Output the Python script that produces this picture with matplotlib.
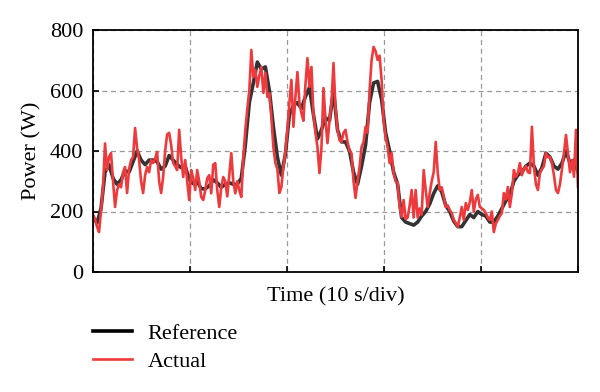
import numpy as np
from matplotlib import pyplot as plt

# power readings (W), sampled evenly over the 50 s window
actual_power = [
    190, 175, 150, 132, 200, 280, 425, 337, 380, 393, 300, 215, 270, 290, 280, 330,
    347, 261, 340, 370, 380, 476, 410, 370, 300, 261, 320, 347, 330, 370, 360, 375,
    397, 300, 261, 314, 400, 455, 460, 420, 360, 350, 337, 470, 380, 314, 370, 300,
    238, 337, 310, 271, 337, 300, 248, 238, 270, 310, 320, 260, 355, 360, 271, 215,
    280, 314, 300, 250, 320, 393, 300, 260, 300, 270, 248, 380, 470, 540, 600, 734,
    645, 668, 612, 650, 678, 592, 658, 579, 590, 512, 413, 360, 340, 261, 281, 347,
    400, 470, 560, 635, 480, 579, 661, 560, 525, 500, 620, 707, 612, 678, 520, 460,
    413, 327, 413, 608, 502, 426, 500, 560, 691, 545, 470, 436, 430, 460, 470, 430,
    400, 392, 300, 245, 300, 347, 413, 430, 480, 460, 600, 700, 744, 730, 701, 715,
    635, 500, 446, 413, 360, 393, 327, 300, 294, 215, 182, 238, 175, 180, 220, 271,
    180, 271, 180, 210, 190, 337, 271, 215, 260, 300, 330, 430, 330, 271, 280, 250,
    215, 220, 205, 195, 172, 162, 149, 180, 215, 172, 228, 205, 230, 271, 200, 240,
    255, 215, 210, 205, 195, 180, 172, 200, 132, 160, 172, 185, 195, 261, 240, 281,
    215, 260, 337, 315, 327, 360, 320, 340, 350, 330, 327, 480, 350, 290, 271, 327,
    340, 350, 393, 380, 380, 360, 320, 271, 261, 290, 340, 393, 453, 393, 330, 370,
    315, 470, 281,
]
reference_power = [
    180, 162, 210, 330, 355, 310, 290, 305, 335, 330, 365, 400, 370, 355, 370, 370,
    365, 340, 350, 385, 370, 355, 345, 350, 305, 292, 300, 275, 275, 285, 305, 295,
    280, 290, 295, 290, 290, 310, 420, 560, 625, 694, 670, 678, 600, 480, 380, 320,
    390, 520, 550, 560, 540, 580, 610, 520, 440, 470, 510, 500, 600, 470, 430, 430,
    400, 330, 290, 350, 420, 560, 625, 630, 570, 460, 400, 330, 290, 180, 165, 160,
    155, 165, 185, 200, 225, 260, 285, 265, 220, 200, 168, 150, 150, 170, 190, 180,
    200, 190, 185, 165, 165, 185, 210, 235, 255, 300, 320, 330, 350, 360, 350, 320,
    345, 393, 380, 350, 340, 360, 400, 360, 370, 330,
]
y_ticks = [0, 200, 400, 600, 800]
x_divs = [0, 10, 20, 30, 40, 50]

plt.rcParams["font.family"] = ["Liberation Serif", "DejaVu Serif"]
plt.rcParams["font.size"] = 16

t_act = np.linspace(0, 50, len(actual_power))
t_ref = np.linspace(0, 50, len(reference_power))

fig = plt.figure(figsize=(6, 3.92), dpi=100)
ax = fig.add_axes([93 / 600, 1 - 272 / 392, 485 / 600, 242 / 392])

ax.plot(t_ref, reference_power, color="#333333", linewidth=2.6, label="Reference")
ax.plot(t_act, actual_power, color="#ee3a3c", linewidth=1.9, label="Actual")

ax.set_xlim(0, 50)
ax.set_ylim(0, 800)
ax.set_xticks(x_divs)
ax.set_xticklabels([])
ax.set_yticks(y_ticks)
ax.tick_params(direction="in", length=4, width=1.2, pad=7)
ax.grid(True, linestyle=(0, (4, 3)), color="#999999", linewidth=0.9)
for sp in ax.spines.values():
    sp.set_linewidth(1.3)

ax.set_xlabel("Time (10 s/div)", labelpad=4)
ax.set_ylabel("Power (W)", labelpad=6)

handles, labels = ax.get_legend_handles_labels()
leg = fig.legend(
    handles, labels, loc="upper left", bbox_to_anchor=(93 / 600, 1 - 323 / 392),
    frameon=False, handlelength=1.75, handletextpad=0.7, labelspacing=0.35,
    borderpad=0, borderaxespad=0,
)
leg.get_lines()[0].set_color("black")
leg.get_lines()[0].set_linewidth(2.6)
leg.get_lines()[1].set_linewidth(1.9)

plt.savefig("out.png", dpi=100)
plt.close()
